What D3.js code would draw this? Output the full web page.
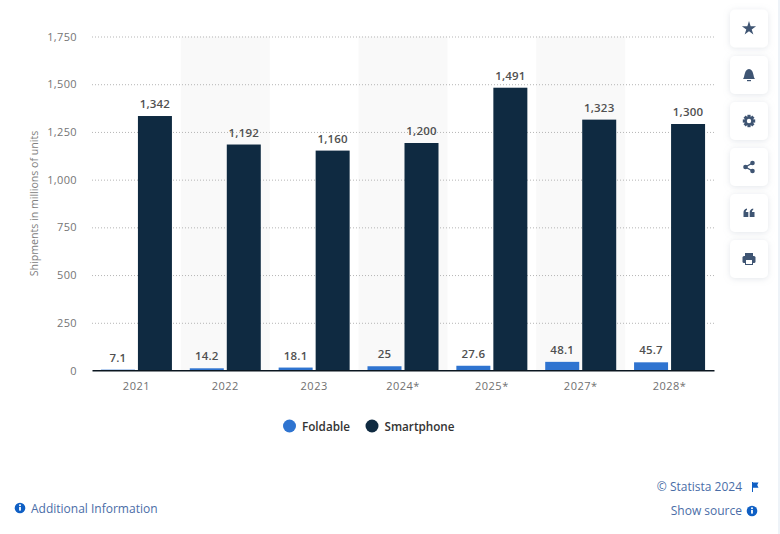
<!DOCTYPE html>
<html><head><meta charset="utf-8">
<script src="https://cdn.jsdelivr.net/npm/d3@7"></script>
<style>
html,body{margin:0;padding:0;background:#fff;overflow:hidden}
svg{display:block;font-family:"Open Sans",sans-serif}
.tick text{font-family:"Open Sans",sans-serif}
</style></head><body>
<svg id="c" width="780" height="534"></svg>
<script>
const categories=["2021","2022","2023","2024*","2025*","2027*","2028*"];
const foldable=[7.1,14.2,18.1,25,27.6,48.1,45.7];
const smartphone=[1342,1192,1160,1200,1491,1323,1300];
const foldableLabels=["7.1","14.2","18.1","25","27.6","48.1","45.7"];
const yTicks=[0,250,500,750,1000,1250,1500,1750];
const seriesNames=["Foldable","Smartphone"];
const colors=["#2f74d0","#0f2a41"];
const yTitle="Shipments in millions of units";

const svg=d3.select("#c");
const x=d3.scaleBand().domain(categories).range([92,714]);
const y=d3.scaleLinear().domain([0,1750]).range([370.5,36.5]);
const yBar=d3.scaleLinear().domain([0,1750]).range([371,38.5]);
const fmt=d3.format(",");
const barW=34, gap=3;

// alternating bands
svg.append("g").selectAll("rect").data(categories.filter((d,i)=>i%2==1)).join("rect")
  .attr("x",d=>x(d)).attr("width",x.bandwidth()).attr("y",y(1750)).attr("height",y(0)-y(1750)).attr("fill","#f9f9f9");

// y axis + grid
const ya=svg.append("g").attr("transform","translate(92,0)")
  .call(d3.axisLeft(y).tickValues(yTicks).tickFormat(fmt).tickSize(0).tickPadding(15));
ya.select(".domain").remove();
ya.selectAll("text").attr("fill","#757575").style("font-size","11px").style("letter-spacing","0.35px");
ya.selectAll(".tick").filter(d=>d>0).append("line")
  .attr("x1",0).attr("x2",622).attr("stroke","#b5b5b5").attr("stroke-width",1).attr("stroke-dasharray","1,2");

// bars
const center=d=>x(d)+x.bandwidth()/2;
svg.append("g").selectAll("rect").data(categories).join("rect")
  .attr("x",d=>center(d)-gap/2-barW).attr("width",barW)
  .attr("y",(d,i)=>yBar(foldable[i])).attr("height",(d,i)=>yBar(0)-yBar(foldable[i])).attr("fill",colors[0]);
svg.append("g").selectAll("rect").data(categories).join("rect")
  .attr("x",d=>center(d)+gap/2).attr("width",barW)
  .attr("y",(d,i)=>yBar(smartphone[i])).attr("height",(d,i)=>yBar(0)-yBar(smartphone[i])).attr("fill",colors[1]);

// x axis
const xa=svg.append("g").attr("transform","translate(0,370.3)")
  .call(d3.axisBottom(x).tickSize(0).tickPadding(12));
xa.select(".domain").attr("stroke","#0b1620").attr("stroke-width",1.5);
xa.selectAll("text").attr("fill","#6f6f6f").style("font-size","11px").style("letter-spacing","0.5px");

// value labels
const lab={"font-size":"11.5px","font-weight":"600","fill":"#505050","text-anchor":"middle","letter-spacing":"0.2px"};
const sty=(s)=>{Object.entries(lab).forEach(([k,v])=>s.style(k,v));return s};
sty(svg.append("g").selectAll("text").data(categories).join("text")
  .attr("x",d=>center(d)-gap/2-barW/2).attr("y",(d,i)=>yBar(foldable[i])-8)
  .text((d,i)=>foldableLabels[i]));
sty(svg.append("g").selectAll("text").data(categories).join("text")
  .attr("x",d=>center(d)+gap/2+barW/2).attr("y",(d,i)=>yBar(smartphone[i])-8)
  .text((d,i)=>fmt(smartphone[i])));

// y title
svg.append("text").attr("transform","translate(38,203.5) rotate(-90)")
  .attr("text-anchor","middle").attr("fill","#808080").style("font-size","10.6px").text(yTitle);

// legend
const lg=[{cx:289.5,tx:302},{cx:372,tx:384.5}];
lg.forEach((p,i)=>{
  svg.append("circle").attr("cx",p.cx).attr("cy",426).attr("r",6.5).attr("fill",colors[i]);
  svg.append("text").attr("x",p.tx).attr("y",431).attr("fill","#333").style("font-size","11.7px").style("font-weight","600").text(seriesNames[i]);
});

// footer
const blue="#0f5fc4", linkCol="#4a6da7";
function info(cx,cy){
  svg.append("circle").attr("cx",cx).attr("cy",cy).attr("r",5.3).attr("fill",blue);
  svg.append("rect").attr("x",cx-0.9).attr("y",cy-1).attr("width",1.8).attr("height",3.6).attr("fill","#fff");
  svg.append("circle").attr("cx",cx).attr("cy",cy-2.8).attr("r",1).attr("fill","#fff");
}
info(20,508);
svg.append("text").attr("x",31).attr("y",513).attr("fill",linkCol).style("font-size","12px").text("Additional Information");
svg.append("text").attr("x",742).attr("y",491).attr("text-anchor","end").attr("fill",linkCol).style("font-size","12px").text("© Statista 2024");
svg.append("path").attr("d","M752 482h1v10h-1zM753 482.5h5.5l-1.3 2.5 1.3 2.8h-5.5z").attr("fill",blue);
svg.append("text").attr("x",742).attr("y",515).attr("text-anchor","end").attr("fill",linkCol).style("font-size","12px").text("Show source");
info(752,511);

// right-side buttons
svg.append("rect").attr("x",778).attr("y",0).attr("width",2).attr("height",534).attr("fill","#eef3f8");
const defs=svg.append("defs");
const f=defs.append("filter").attr("id","s").attr("x","-30%").attr("y","-30%").attr("width","160%").attr("height","160%");
f.append("feDropShadow").attr("dx",0).attr("dy",1).attr("stdDeviation",3).attr("flood-color","#9aa5b5").attr("flood-opacity",0.28);
const ic="#3f5573";
const btnY=[28.5,75,121,167,213,259];
const icons=[
 g=>g.append("path").attr("d",d3.symbol(d3.symbolStar,62)()).attr("fill",ic),
 g=>{g.append("path").attr("d","M-6 4C-4 2-5-5.5 0-6C5-5.5 4 2 6 4Z").attr("fill",ic);
     g.append("rect").attr("x",-2).attr("y",5).attr("width",4).attr("height",1.2).attr("fill",ic);},
 g=>{[0,45,90,135].forEach(a=>g.append("rect").attr("x",-1.6).attr("y",-6.2).attr("width",3.2).attr("height",12.4).attr("fill",ic).attr("transform",`rotate(${a})`));
     g.append("circle").attr("r",4.6).attr("fill",ic);
     g.append("circle").attr("r",2.2).attr("fill","#fff");},
 g=>{g.append("path").attr("d","M3.5-4L-3.5 0L3.5 4").attr("fill","none").attr("stroke",ic).attr("stroke-width",1.4);
     [[3.5,-4],[-3.5,0],[3.5,4]].forEach(p=>g.append("circle").attr("cx",p[0]).attr("cy",p[1]).attr("r",2.3).attr("fill",ic));},
 g=>{["M-5.5 4V-.5C-5.5-2.5-4.5-4-2-4.5V-3C-3-2.7-3.2-2-3.2-1H-.7V4Z","M.7 4V-.5C.7-2.5 1.7-4 4.2-4.5V-3C3.2-2.7 3-2 3-1H5.5V4Z"].forEach(d=>g.append("path").attr("d",d).attr("fill",ic));},
 g=>{g.append("path").attr("d","M-4-6H4V-2H-4Z").attr("fill",ic);
     g.append("rect").attr("x",-6.5).attr("y",-3).attr("width",13).attr("height",7).attr("rx",1.5).attr("fill",ic);
     g.append("rect").attr("x",-3.5).attr("y",0.5).attr("width",7).attr("height",5).attr("fill","#fff").attr("stroke",ic).attr("stroke-width",1);}
];
btnY.forEach((cy,i)=>{
  const g=svg.append("g").attr("transform",`translate(749,${cy})`);
  g.append("rect").attr("x",-19).attr("y",-19).attr("width",38).attr("height",38).attr("rx",5).attr("fill","#fff").attr("filter","url(#s)");
  icons[i](g);
});
</script></body></html>
